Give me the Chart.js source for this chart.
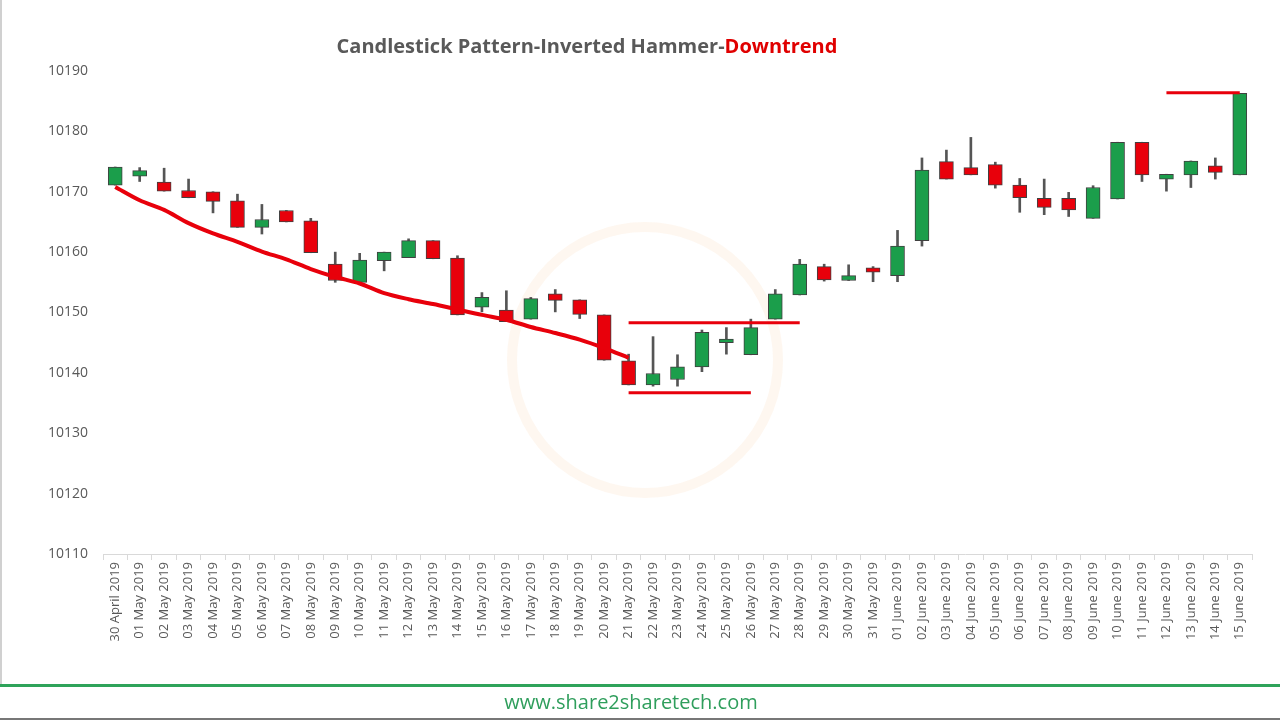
<!DOCTYPE html>
<html>
<head>
<meta charset="utf-8">
<script src="https://cdn.jsdelivr.net/npm/chart.js@4.4.1/dist/chart.umd.min.js"></script>
<style>
  html, body { margin: 0; padding: 0; background: #fff; }
  #wrap { width: 1280px; height: 720px; position: relative; }
</style>
</head>
<body>
<div id="wrap"><canvas id="myChart" width="1280" height="720"></canvas></div>
<script>
const labels = [
  "30 April 2019", "01 May 2019", "02 May 2019", "03 May 2019", "04 May 2019", "05 May 2019",
  "06 May 2019", "07 May 2019", "08 May 2019", "09 May 2019", "10 May 2019", "11 May 2019",
  "12 May 2019", "13 May 2019", "14 May 2019", "15 May 2019", "16 May 2019", "17 May 2019",
  "18 May 2019", "19 May 2019", "20 May 2019", "21 May 2019", "22 May 2019", "23 May 2019",
  "24 May 2019", "25 May 2019", "26 May 2019", "27 May 2019", "28 May 2019", "29 May 2019",
  "30 May 2019", "31 May 2019", "01 June 2019", "02 June 2019", "03 June 2019", "04 June 2019",
  "05 June 2019", "06 June 2019", "07 June 2019", "08 June 2019", "09 June 2019", "10 June 2019",
  "11 June 2019", "12 June 2019", "13 June 2019", "14 June 2019", "15 June 2019"
];

const open = [
  10171.1, 10172.6, 10171.6, 10170.2, 10170.0, 10168.5, 10164.1, 10166.9, 10165.2, 10158.0,
  10155.0, 10158.6, 10159.1, 10161.9, 10159.0, 10150.9, 10150.4, 10148.9, 10153.1, 10152.1,
  10149.6, 10142.0, 10138.0, 10138.9, 10141.0, 10145.0, 10143.0, 10148.9, 10152.9, 10157.6,
  10155.3, 10157.4, 10156.1, 10161.9, 10175.0, 10174.0, 10174.5, 10171.1, 10168.9, 10168.9,
  10165.6, 10168.8, 10178.2, 10172.1, 10172.8, 10174.3, 10172.8
];
const high = [
  10174.1, 10174.0, 10173.9, 10172.1, 10170.0, 10169.6, 10167.9, 10166.9, 10165.6, 10160.0,
  10159.8, 10160.0, 10162.2, 10161.9, 10159.4, 10153.3, 10153.6, 10152.5, 10153.8, 10152.1,
  10149.6, 10143.1, 10146.0, 10143.0, 10147.1, 10147.5, 10148.9, 10153.8, 10158.8, 10158.0,
  10157.9, 10157.6, 10163.6, 10175.6, 10176.9, 10179.0, 10174.9, 10172.2, 10172.1, 10169.9,
  10171.0, 10178.2, 10178.2, 10172.9, 10175.1, 10175.6, 10186.3
];
const low = [
  10171.1, 10171.7, 10170.1, 10169.0, 10166.5, 10164.1, 10163.0, 10165.0, 10159.9, 10155.0,
  10155.0, 10156.9, 10159.1, 10158.9, 10149.6, 10150.1, 10148.5, 10148.9, 10150.1, 10149.0,
  10142.1, 10138.0, 10137.8, 10137.8, 10140.2, 10143.1, 10143.0, 10148.9, 10152.9, 10155.2,
  10155.3, 10155.1, 10155.1, 10161.0, 10172.1, 10172.8, 10170.6, 10166.6, 10166.2, 10165.9,
  10165.6, 10168.8, 10171.7, 10170.1, 10170.7, 10172.1, 10172.8
];
const close = [
  10174.1, 10173.5, 10170.1, 10169.0, 10168.4, 10164.1, 10165.4, 10165.0, 10159.9, 10155.3,
  10158.7, 10160.0, 10161.9, 10158.9, 10149.6, 10152.5, 10148.5, 10152.3, 10152.0, 10149.7,
  10142.1, 10138.0, 10139.9, 10141.0, 10146.7, 10145.6, 10147.5, 10153.1, 10158.0, 10155.4,
  10156.1, 10156.7, 10161.0, 10173.6, 10172.1, 10172.8, 10171.1, 10169.0, 10167.4, 10167.0,
  10170.7, 10178.2, 10172.8, 10172.9, 10175.1, 10173.2, 10186.3
];

// hand drawn red marks on the picture
const trendLine = [
  10170.8, 10168.6, 10167.0, 10164.8, 10163.1, 10161.7, 10160.1, 10158.8, 10157.2, 10155.9,
  10154.8, 10153.2, 10152.2, 10151.4, 10150.5, 10149.6, 10148.8, 10147.6, 10146.6, 10145.5,
  10144.1, 10142.5
];
const resistanceLine = { from: 21, to: 28, value: 10148.3 };
const supportLine = { from: 21, to: 26, value: 10136.7 };
const topLine = { from: 43, to: 46, value: 10186.4 };

const yTicks = { min: 10110, max: 10190, step: 10 };

const GREEN = "#1b9e4b";
const RED = "#e8000b";

function flatLine(seg) {
  return labels.map((_, i) => (i >= seg.from && i <= seg.to ? seg.value : null));
}
const trendData = labels.map((_, i) => (i < trendLine.length ? trendLine[i] : null));

const rising = labels.map((_, i) => close[i] >= open[i]);

const titlePlugin = {
  id: "titleAndFooter",
  beforeDatasetsDraw(chart) {
    const ctx = chart.ctx;
    // faint watermark ring
    ctx.save();
    ctx.strokeStyle = "rgba(245, 200, 150, 0.14)";
    ctx.lineWidth = 10;
    ctx.beginPath();
    ctx.arc(645, 360, 133, 0, Math.PI * 2);
    ctx.stroke();
    ctx.restore();
  },
  afterDraw(chart) {
    const ctx = chart.ctx;
    ctx.save();
    ctx.font = 'bold 20px "Open Sans"';
    ctx.textBaseline = "middle";
    ctx.textAlign = "left";
    const a = "Candlestick Pattern-Inverted Hammer-";
    const b = "Downtrend";
    const w = ctx.measureText(a + b).width;
    const x0 = 587 - w / 2;
    ctx.fillStyle = "#595959";
    ctx.fillText(a, x0, 47);
    ctx.fillStyle = "#e00000";
    ctx.fillText(b, x0 + ctx.measureText(a).width, 47);

    // footer
    ctx.fillStyle = "#2ea35a";
    ctx.fillRect(0, 684, 1280, 3);
    ctx.font = '20px "Open Sans"';
    ctx.textAlign = "center";
    ctx.fillStyle = "#2f9e5c";
    ctx.fillText("www.share2sharetech.com", 631, 703);
    ctx.fillStyle = "#777";
    ctx.fillRect(0, 718, 1280, 2);
    ctx.fillStyle = "#d0d0d0";
    ctx.fillRect(0, 0, 2, 684);
    ctx.restore();
  }
};

const lineStyle = {
  type: "line",
  borderColor: RED,
  borderWidth: 4,
  pointRadius: 0,
  tension: 0.3,
  fill: false,
  order: 0
};

new Chart(document.getElementById("myChart"), {
  type: "bar",
  data: {
    labels: labels,
    datasets: [
      {
        label: "wick",
        data: labels.map((_, i) => [low[i], high[i]]),
        backgroundColor: "#555555",
        barThickness: 2,
        grouped: false,
        order: 2
      },
      {
        label: "body",
        data: labels.map((_, i) => [open[i], close[i]]),
        backgroundColor: rising.map((r) => (r ? GREEN : RED)),
        borderColor: "#404040",
        borderWidth: 1,
        borderSkipped: false,
        barThickness: 14,
        grouped: false,
        order: 1
      },
      Object.assign({ label: "trend", data: trendData }, lineStyle),
      Object.assign({ label: "resistance", data: flatLine(resistanceLine) }, lineStyle, { borderWidth: 3 }),
      Object.assign({ label: "support", data: flatLine(supportLine) }, lineStyle, { borderWidth: 3 }),
      Object.assign({ label: "top", data: flatLine(topLine) }, lineStyle, { borderWidth: 3 })
    ]
  },
  options: {
    responsive: false,
    animation: false,
    layout: { padding: { top: 71, right: 28, left: 0, bottom: 0 } },
    plugins: {
      legend: { display: false },
      tooltip: { enabled: false },
      title: { display: false }
    },
    scales: {
      x: {
        offset: true,
        border: { display: true, color: "#d9d9d9" },
        grid: {
          display: true,
          drawOnChartArea: false,
          offset: true,
          color: "#d9d9d9",
          tickLength: 6
        },
        ticks: {
          minRotation: 90,
          maxRotation: 90,
          autoSkip: false,
          color: "#595959",
          font: { family: "Open Sans", size: 13 },
          padding: 2
        },
        afterFit(s) { s.height = 720 - 554; }
      },
      y: {
        min: yTicks.min,
        max: yTicks.max,
        border: { display: false },
        grid: { display: false, drawTicks: false },
        ticks: {
          stepSize: yTicks.step,
          color: "#595959",
          font: { family: "Open Sans", size: 14 },
          padding: 15,
          callback: (v) => String(v)
        },
        afterFit(s) { s.width = 103; }
      }
    }
  },
  plugins: [titlePlugin]
});
</script>
</body>
</html>
